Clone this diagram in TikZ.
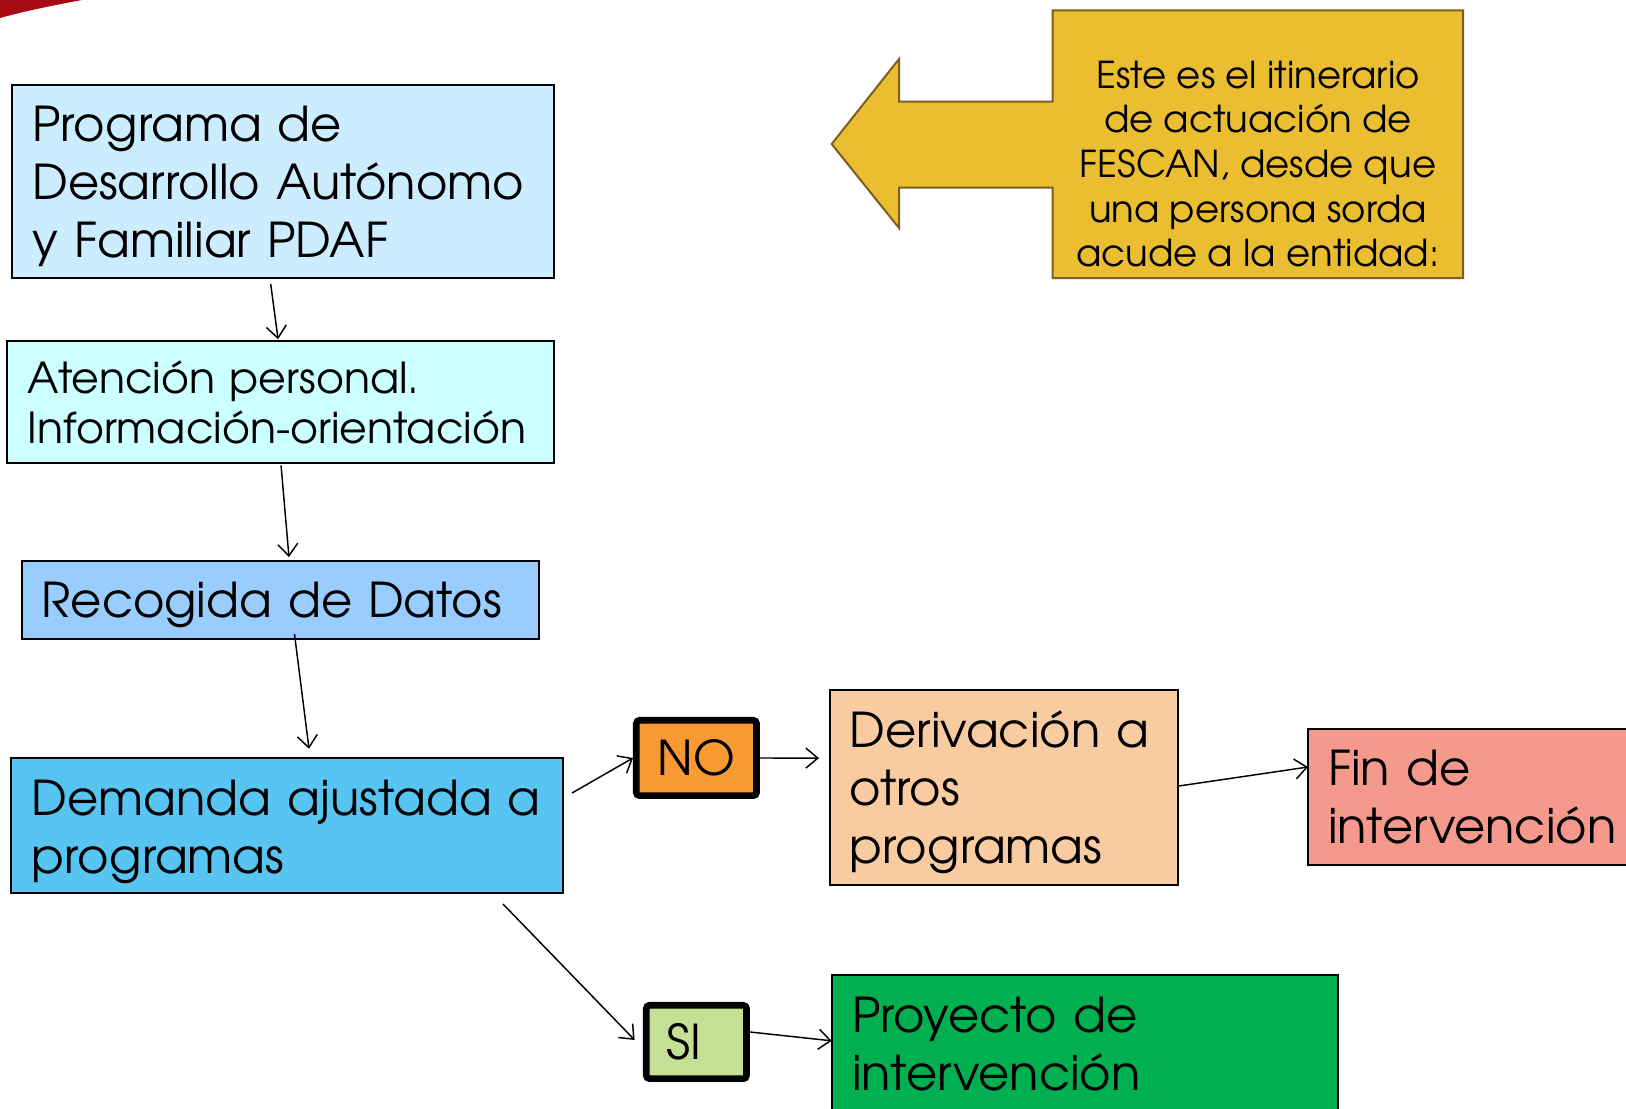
\documentclass[tikz,border=0pt]{standalone}
\usepackage{fontspec}
\setmainfont{texgyreadventor-regular.otf}
\usetikzlibrary{arrows.meta,calc}
\definecolor{cB1}{RGB}{204,236,255}
\definecolor{cB2}{RGB}{204,255,255}
\definecolor{cB3}{RGB}{153,204,255}
\definecolor{cB4}{RGB}{88,196,242}
\definecolor{cNO}{RGB}{249,154,51}
\definecolor{cDer}{RGB}{248,203,160}
\definecolor{cFin}{RGB}{245,153,140}
\definecolor{cSI}{RGB}{195,224,149}
\definecolor{cPro}{RGB}{0,176,80}
\definecolor{cCall}{RGB}{235,190,50}
\definecolor{cCallB}{RGB}{122,96,28}
\definecolor{cRed}{RGB}{165,10,20}
\begin{document}
\begin{tikzpicture}[x=0.75pt,y=-0.75pt,
  box/.style={draw=black,line width=1.5pt,anchor=north west,outer sep=0pt,
    inner xsep=15pt,inner ysep=0pt,align=left},
  big/.style={font=\fontsize{36}{43.5}\selectfont},
  mid/.style={font=\fontsize{32}{37.4}\selectfont},
  choice/.style={draw=black,line width=5pt,rounded corners=2.5pt,anchor=north west,
    outer sep=0pt,inner xsep=15pt,inner ysep=0pt,align=left,
    font=\fontsize{36}{42}\selectfont},
  arr/.style={line width=1.1pt,-{Straight Barb[length=9pt,width=15pt]}}
]
\useasboundingbox (0,0) rectangle (1626,1108);
\clip (0,0) rectangle (1626,1108);
\fill[white] (0,0) rectangle (1626,1108);
% red swoosh at top-left
\fill[cRed] (0,0) -- (82,0) .. controls (55,5) and (25,11) .. (0,18) -- cycle;
% callout arrow
\filldraw[fill=cCall,draw=cCallB,line width=1.5pt,line join=miter]
  (831.7,144) -- (899,59) -- (899,101.6) -- (1052.6,101.6) -- (1052.6,10.4)
  -- (1463,10.4) -- (1463,278) -- (1052.6,278) -- (1052.6,187.7)
  -- (899,187.7) -- (899,228) -- cycle;
\node[anchor=center,align=center,inner sep=0pt,font=\fontsize{27.8}{33.45}\selectfont]
  (call) at (1258,164) {Este es el itinerario\\de actuación de\\FESCAN, desde que\\una persona sorda\\acude a la entidad:};
% boxes
\node[box,big,fill=cB1,minimum width=406.05pt,minimum height=144.75pt,text width=376pt,text depth=86.5pt]
  (b1) at (12.4,85) {Programa de\\Desarrollo Autónomo\\y Familiar PDAF};
\node[box,mid,fill=cB2,minimum width=409.9pt,minimum height=91.7pt,text width=379pt]
  (b2) at (7.3,341.2) {Atención personal.\\Información-orientación};
\node[box,big,fill=cB3,minimum width=388pt,minimum height=58.4pt,text width=358pt,text depth=0pt]
  (b3) at (21.8,561) {Recogida de Datos};
\node[box,big,fill=cB4,minimum width=413.7pt,minimum height=101.25pt,text width=383pt,text depth=41.5pt]
  (b4) at (11.4,758) {Demanda ajustada a\\programas};
\node[choice,fill=cNO,minimum width=90.2pt,minimum height=56.5pt,text width=58pt,inner xsep=15pt]
  (no) at (636.3,720.3) {NO};
\node[choice,fill=cSI,minimum width=75.2pt,minimum height=55pt,text width=45pt]
  (si) at (646.3,1005.3) {SI};
\node[box,big,fill=cDer,minimum width=261.3pt,minimum height=146.25pt,text width=231pt,text depth=86.5pt]
  (der) at (829.6,689.6) {Derivación a\\otros\\programas};
\node[box,big,fill=cFin,minimum width=262pt,minimum height=102pt,text width=232pt]
  (fin) at (1308,729) {Fin de\\intervención};
\node[box,big,fill=cPro,minimum width=379.5pt,minimum height=103.4pt,text width=349pt]
  (pro) at (831.7,974.8) {Proyecto de\\intervención};
% connectors
\draw[arr] ($(b1.south)+(-12.4,6)$) -- ($(b2.north)+(-2.5,-2)$);
\draw[arr] ($(b2.south)+(0.5,2)$) -- ($(b3.north)+(8.5,-4)$);
\draw[arr] ($(b3.south)+(14,-5)$) -- ($(b4.north)+(21.8,-9.3)$);
\draw[arr] ($(b4.east)+(9,-32.5)$) -- ($(no.west)+(-3.3,0)$);
\draw[arr] ($(no.east)+(3.3,0)$) -- ($(der.west)+(-10.6,-29)$);
\draw[arr] ($(der.east)+(0,-1)$) -- ($(fin.west)+(0,-30)$);
\draw[arr] ($(b4.south east)+(-60,11)$) -- ($(si.west)+(-11.7,-2)$);
\draw[arr] ($(si.east)+(3.3,-10)$) -- ($(pro.north west)+(0,66)$);
\end{tikzpicture}
\end{document}
